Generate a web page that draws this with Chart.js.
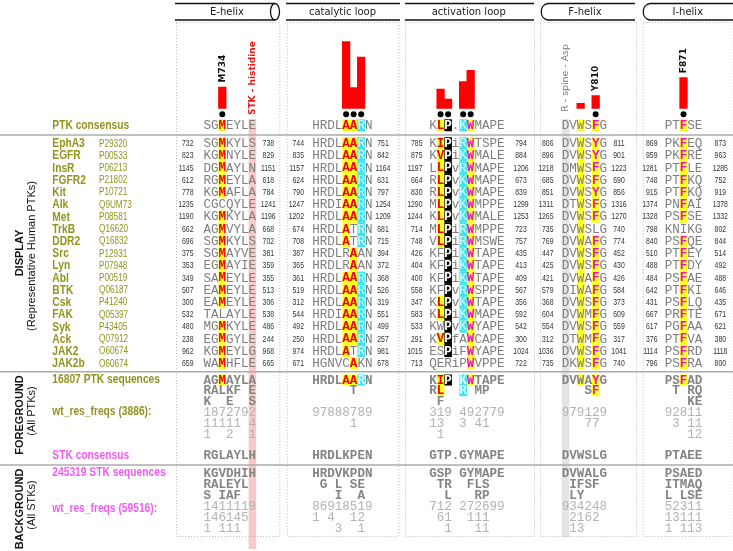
<!DOCTYPE html>
<html>
<head>
<meta charset="utf-8">
<title>PTK alignment</title>
<script src="https://cdn.jsdelivr.net/npm/chart.js@4.4.1/dist/chart.umd.min.js"></script>
<style>
  html, body { margin: 0; padding: 0; background: #fff; overflow: hidden; }
  canvas { display: block; }
</style>
</head>
<body>
<canvas id="alignChart" width="733" height="551"></canvas>
<script>
/* ================== Data ================== */
const blockNames = ["E-helix", "catalytic loop", "activation loop", "F-helix", "I-helix"];

// bar heights over alignment columns (block index, column inside block)
const barBlock = [0, 1, 1, 1, 2, 2, 2, 2, 3, 3, 4];
const barCol = [2, 4, 5, 6, 1, 2, 4, 5, 2, 4, 2];
const barValues = [0.32, 1.0, 0.31, 0.77, 0.29, 0.14, 0.4, 0.57, 0.075, 0.19, 0.46];

// black dots under the selected columns
const dotBlock = [0, 1, 1, 1, 2, 2, 2, 2, 3, 4];
const dotCol = [2, 4, 5, 6, 1, 2, 4, 5, 4, 2];

// residue labels above bars
const markLabels = ["M734", "Y810", "F871"];
const markBlock = [0, 3, 4];
const markCol = [2, 4, 2];

// column notes
const noteLabels = ["STK - histidine", "R - spine - Asp"];
const noteBlock = [0, 3];
const noteCol = [6, 0];

const ptkConsensus = ["SGMEYLE", "HRDLAARN", "KLP.KWMAPE", "DVWSFG", "PTFSE"];

const proteins = ["EphA3", "EGFR", "InsR", "FGFR2", "Kit", "Alk", "Met", "TrkB", "DDR2", "Src",
  "Lyn", "Abl", "BTK", "Csk", "FAK", "Syk", "Ack", "JAK2", "JAK2b"];
const accessions = ["P29320", "P00533", "P06213", "P21802", "P10721", "Q9UM73", "P08581", "Q16620",
  "Q16832", "P12931", "P07948", "P00519", "Q06187", "P41240", "Q05397", "P43405", "Q07912",
  "O60674", "O60674"];

const seqs = [
  ["SGMKYLS", "HRDLAARN", "KIPiRWTSPE", "DVWSYG", "PKFEQ"],
  ["KGMNYLE", "HRDLAARN", "KVPiKWMALE", "DVWSYG", "PKFRE"],
  ["DGMAYLN", "HRDLAARN", "LLPvRWMAPE", "DMWSFG", "PTFLE"],
  ["RGMEYLA", "HRDLAARN", "RLPvKWMAPE", "DVWSFG", "PTFKQ"],
  ["KGMAFLA", "HRDLAARN", "RLPvKWMAPE", "DVWSYG", "PTFKQ"],
  ["CGCQYLE", "HRDIAARN", "MLPvKWMPPE", "DTWSFG", "PNFAI"],
  ["KGMKYLA", "HRDLAARN", "KLPvKWMALE", "DVWSFG", "PSFSE"],
  ["AGMVYLA", "HRDLATRN", "MLPiRWMPPE", "DVWSLG", "KNIKG"],
  ["SGMKYLS", "HRDLATRN", "VLPiRWMSWE", "DVWAFG", "PSFQE"],
  ["SGMAYVE", "HRDLRAAN", "KFPiKWTAPE", "DVWSFG", "PTFEY"],
  ["EGMAYIE", "HRDLRAAN", "KFPiKWTAPE", "DVWSFG", "PTFDY"],
  ["SAMEYLE", "HRDLAARN", "KFPiKWTAPE", "DVWAFG", "PSFAE"],
  ["EAMEYLE", "HRDLAARN", "KFPvRWSPPE", "DIWAFG", "PTFKI"],
  ["EAMEYLE", "HRDLAARN", "KLPvKWTAPE", "DVWSFG", "PSFLQ"],
  ["TALAYLE", "HRDIAARN", "KLPiKWMAPE", "DVWMFG", "PRFTE"],
  ["MGMKYLE", "HRDLAARN", "KWPvKWYAPE", "DVWSFG", "PGFAA"],
  ["EGMGYLE", "HRDLAARN", "KVPfAWCAPE", "DTWMFG", "PTFVA"],
  ["KGMEYLG", "HRDLATRN", "ESPiFWYAPE", "DVWSFG", "PSFRD"],
  ["WAMHFLE", "HGNVCAKN", "QERiPWVPPE", "DKWSFG", "PSFRA"]
];
const startNums = [
  [732, 744, 785, 806, 869], [823, 835, 875, 896, 959], [1145, 1157, 1197, 1218, 1281],
  [612, 624, 664, 685, 748], [778, 790, 830, 851, 915], [1235, 1247, 1290, 1311, 1374],
  [1190, 1202, 1244, 1265, 1328], [662, 674, 714, 735, 798], [696, 708, 748, 769, 840],
  [375, 387, 426, 447, 510], [353, 365, 404, 425, 488], [349, 361, 400, 421, 484],
  [507, 519, 558, 579, 642], [300, 312, 347, 368, 431], [532, 544, 583, 604, 667],
  [480, 492, 533, 554, 617], [238, 250, 291, 312, 376], [962, 974, 1015, 1036, 1114],
  [659, 671, 713, 735, 796]
];
const endNums = [
  [738, 751, 794, 811, 873], [829, 842, 884, 901, 963], [1151, 1164, 1206, 1223, 1285],
  [618, 631, 673, 690, 752], [784, 797, 839, 856, 919], [1241, 1254, 1299, 1316, 1378],
  [1196, 1209, 1253, 1270, 1332], [668, 681, 723, 740, 802], [702, 715, 757, 774, 844],
  [381, 394, 435, 452, 514], [359, 372, 413, 430, 492], [355, 368, 409, 426, 488],
  [513, 526, 567, 584, 646], [306, 319, 356, 373, 435], [538, 551, 592, 609, 671],
  [486, 499, 542, 559, 621], [244, 257, 300, 317, 380], [968, 981, 1024, 1041, 1118],
  [665, 678, 722, 740, 800]
];

// foreground (all PTKs): residue lines and weighted frequency lines per block
const fgResidues = [
  ["AGMAYLA", "RALKF E", "K  E  S"],
  ["HRDLAARN", "     T", ""],
  ["KIP KWTAPE", "RL  R MP", " F"],
  ["DVWAYG", "   SF", ""],
  ["PSFAD", " T RQ", "   KE"]
];
const fgFreqs = [
  ["1872792", "11111 4", "1  2  1"],
  ["97888789", "     1", ""],
  ["319 492779", "13  3 41", " 1"],
  ["979129", "   77", ""],
  ["92811", " 3 11", "   12"]
];
const stkConsensus = ["RGLAYLH", "HRDLKPEN", "GTP.GYMAPE", "DVWSLG", "PTAEE"];
// background (all STKs)
const bgResidues = [
  ["KGVDHIH", "RALEYL", "S IAF"],
  ["HRDVKPDN", " G L SE", "   I  A"],
  ["GSP GYMAPE", " TR  FLS", "  L   RP"],
  ["DVWALG", " IFSF", " LY"],
  ["PSAED", "ITMAQ", "L LSE"]
];
const bgFreqs = [
  ["1411119", "146145", "1 111"],
  ["86918519", "1 4  12", "   3  1"],
  ["712 272699", " 61  111", "  1   11"],
  ["934248", " 2162", " 13"],
  ["52311", "13111", "1 113"]
];

// highlight rules: "block:col" -> residue -> style
const hlRules = {
  "0:2": { M: "yr" },
  "1:4": { A: "yr" }, "1:5": { A: "yr" }, "1:6": { R: "cy" },
  "2:1": { L: "yr", I: "yr", V: "yr" }, "2:2": { P: "bk" },
  "2:4": { K: "cy", R: "cy" }, "2:5": { W: "ym" },
  "3:2": { W: "yg" }, "3:4": { F: "ym", Y: "ym" },
  "4:2": { F: "ym" }
};

const sectionLabels = ["PTK consensus", "16807 PTK sequences", "wt_res_freqs (3886):",
  "STK consensus", "245319 STK sequences", "wt_res_freqs (59516):"];

/* ================== Layout & styles ================== */
const W = 733, H = 551;
const CW = 7.6; // one residue column
const BLOCK_X = [201.7, 311.7, 430, 564, 668];
const BLOCK_COL = BLOCK_X.map((p) => p / CW);
const NUM_L = [193.5, 304, 422.5, 553.5, 657.5];
const NUM_R = [268.3, 383, 521, 619, 720.3];
const BOX = [[176, 279.3], [286.7, 398.3], [405, 534], [540, 636], [642.7, 732.7]];
const HEAD_X = [227, 342.5, 468.7, 585, 687.8];
const CONS_Y = 125.3, ROW_Y0 = 143.3, ROW_DY = 12.22;
const FG_Y0 = 380, FG_DY = 10.75, STK_Y = 455.7, BG_Y0 = 473, BG_DY = 10.95;
const SECTION_Y = [125.3, 380, 412, 455.7, 473, 508.3];

const OLIVE = "#939320";
const PINK_TXT = "#f25cf2";
const SECTION_COL = [OLIVE, OLIVE, OLIVE, PINK_TXT, PINK_TXT, PINK_TXT];
const GRAY = "#7e7e7e", GRAY_B = "#848484", GRAY_L = "#b3b3b3";
const YELLOW = "#ffff1e", CYAN = "#3fe3f0", RED = "#f00000", MAG = "#ee10c8";
const MONO = '12.6px "Liberation Mono", "DejaVu Sans Mono", monospace';
const SANS = '"Liberation Sans", Arial, sans-serif';
const DJV = '"DejaVu Sans", Verdana, sans-serif';

/* ================== Helpers ================== */
function colX(chart, b, c) {
  return chart.scales.x.getPixelForValue(BLOCK_COL[b] + c);
}

function narrowText(ctx, text, x, y, font, color, align, sx) {
  ctx.save();
  ctx.translate(x, y);
  ctx.scale(sx || 0.82, 1);
  ctx.font = font;
  ctx.fillStyle = color;
  ctx.textAlign = align || "left";
  ctx.textBaseline = "middle";
  ctx.fillText(text, 0, 0);
  ctx.restore();
}

function vText(ctx, text, x, y, font, color, align) {
  ctx.save();
  ctx.translate(x, y);
  ctx.rotate(-Math.PI / 2);
  ctx.font = font;
  ctx.fillStyle = color;
  ctx.textAlign = align || "center";
  ctx.textBaseline = "middle";
  ctx.fillText(text, 0, 0);
  ctx.restore();
}

// every sequence line drawn on the page
function buildSeqLines() {
  const lines = [];
  for (let b = 0; b < 5; b++) {
    lines.push({ b, seq: ptkConsensus[b], y: CONS_Y, kind: "disp", hl: true, ch: 12 });
    seqs.forEach((row, i) => {
      lines.push({ b, seq: row[b], y: ROW_Y0 + i * ROW_DY, kind: "disp", hl: true, ch: ROW_DY });
    });
    fgResidues[b].forEach((s, i) => lines.push({ b, seq: s, y: FG_Y0 + i * FG_DY, kind: "bold", hl: true, ch: 11 }));
    fgFreqs[b].forEach((s, i) => lines.push({ b, seq: s, y: FG_Y0 + (i + 3) * FG_DY, kind: "dig" }));
    lines.push({ b, seq: stkConsensus[b], y: STK_Y, kind: "bold" });
    bgResidues[b].forEach((s, i) => lines.push({ b, seq: s, y: BG_Y0 + i * BG_DY, kind: "bold" }));
    bgFreqs[b].forEach((s, i) => lines.push({ b, seq: s, y: BG_Y0 + (i + 3) * BG_DY, kind: "dig" }));
  }
  return lines;
}
const seqLines = buildSeqLines();

function hlStyle(line, c, ch) {
  if (!line.hl) return null;
  const rule = hlRules[line.b + ":" + c];
  return rule ? rule[ch] || null : null;
}

/* ================== Plugin: background, alignment text ================== */
const alignmentPlugin = {
  id: "alignment",
  beforeDraw(chart) {
    const ctx = chart.ctx;
    ctx.save();
    ctx.fillStyle = "#fff";
    ctx.fillRect(0, 0, W, H);

    // STK histidine column and R-spine column
    ctx.fillStyle = "#f8c9c9";
    ctx.fillRect(colX(chart, 0, 6), 119, CW, 430);
    ctx.fillStyle = "#e4e4e4";
    ctx.fillRect(colX(chart, 3, 0), 119, CW, 418);

    // dotted boxes
    ctx.strokeStyle = "#b9b9b9";
    ctx.lineWidth = 1;
    ctx.setLineDash([1, 2]);
    BOX.forEach(([l, r]) => {
      ctx.strokeRect(l + 0.5, 22.5, r - l, 514);
    });
    ctx.setLineDash([]);

    // section separators
    ctx.strokeStyle = "#ababab";
    ctx.lineWidth = 1.5;
    [135, 371.7, 465].forEach((y) => {
      ctx.beginPath();
      ctx.moveTo(0, y);
      ctx.lineTo(W, y);
      ctx.stroke();
    });

    // header tubes
    const yt = 3.5, yb = 20, ymid = (yt + yb) / 2;
    ctx.strokeStyle = "#111";
    ctx.lineWidth = 1.3;
    [[175, 275], [286, 400], [405, 534]].forEach(([l, r]) => {
      ctx.beginPath();
      ctx.moveTo(l, yt); ctx.lineTo(r, yt);
      ctx.moveTo(l, yb); ctx.lineTo(r, yb);
      ctx.stroke();
    });
    ctx.beginPath();
    ctx.ellipse(275, ymid, 4.5, (yb - yt) / 2, 0, 0, Math.PI * 2);
    ctx.stroke();
    [[540, 635], [642, 733]].forEach(([l, r]) => {
      ctx.beginPath();
      ctx.moveTo(r, yt);
      ctx.lineTo(l + 8, yt);
      ctx.bezierCurveTo(l - 1, yt + 1, l - 1, yb - 1, l + 8, yb);
      ctx.lineTo(r, yb);
      ctx.stroke();
    });

    // highlight cells
    seqLines.forEach((line) => {
      for (let c = 0; c < line.seq.length; c++) {
        const st = hlStyle(line, c, line.seq[c]);
        if (!st) continue;
        ctx.fillStyle = st === "cy" ? CYAN : st === "bk" ? "#000" : YELLOW;
        const x0 = colX(chart, line.b, c);
        ctx.fillRect(x0, line.y - line.ch / 2, CW, line.ch);
      }
    });
    ctx.restore();
  },
  afterDraw(chart) {
    const ctx = chart.ctx;
    const y = chart.scales.y;
    ctx.save();

    // header labels
    blockNames.forEach((name, b) => {
      ctx.font = "10px " + DJV;
      ctx.fillStyle = "#222";
      ctx.textAlign = "center";
      ctx.textBaseline = "middle";
      ctx.fillText(name, HEAD_X[b], 12);
    });

    // residue labels above bars
    markLabels.forEach((txt, i) => {
      const k = barBlock.findIndex((bb, j) => bb === markBlock[i] && barCol[j] === markCol[i]);
      const top = y.getPixelForValue(barValues[k]);
      vText(ctx, txt, colX(chart, markBlock[i], markCol[i] + 0.5), top - 4.5, "bold 9px " + DJV, "#111", "left");
    });
    vText(ctx, noteLabels[0], colX(chart, noteBlock[0], noteCol[0] + 0.5), 115, "bold 9px " + DJV, "#e51a1a", "left");
    vText(ctx, noteLabels[1], colX(chart, noteBlock[1], noteCol[1] + 0.5), 111.7, "9.4px " + DJV, "#7a7a7a", "left");

    // sequence letters
    ctx.textAlign = "center";
    ctx.textBaseline = "middle";
    seqLines.forEach((line) => {
      for (let c = 0; c < line.seq.length; c++) {
        const ch = line.seq[c];
        if (ch === " ") continue;
        const st = hlStyle(line, c, ch);
        let color = line.kind === "dig" ? GRAY_L : line.kind === "bold" ? GRAY_B : GRAY;
        let bold = line.kind === "bold";
        if (st === "yr") { color = RED; bold = true; }
        else if (st === "ym") { color = MAG; bold = true; }
        else if (st === "cy") { color = "#dcfbfd"; }
        else if (st === "bk") { color = "#fff"; bold = true; }
        ctx.font = (bold ? "bold " : "") + MONO;
        ctx.fillStyle = color;
        ctx.fillText(ch, colX(chart, line.b, c + 0.5), line.y + 0.5);
      }
    });

    // residue numbers
    seqs.forEach((row, i) => {
      const ry = ROW_Y0 + i * ROW_DY + 0.5;
      for (let b = 0; b < 5; b++) {
        narrowText(ctx, String(startNums[i][b]), NUM_L[b], ry, "8.6px " + SANS, "#333", "right", 0.8);
        narrowText(ctx, String(endNums[i][b]), NUM_R[b], ry, "8.6px " + SANS, "#333", "center", 0.8);
      }
      narrowText(ctx, proteins[i], 52.3, ry, "bold 12.5px " + SANS, OLIVE, "left");
      narrowText(ctx, accessions[i], 99, ry, "10px " + SANS, OLIVE, "left");
    });

    // section labels
    sectionLabels.forEach((txt, i) => {
      narrowText(ctx, txt, 52.3, SECTION_Y[i], "bold 12.5px " + SANS, SECTION_COL[i], "left");
    });

    // side titles
    vText(ctx, "DISPLAY", 20, 253, "bold 11px " + SANS, "#111");
    vText(ctx, "(Representative Human PTKs)", 31.5, 256, "11px " + SANS, "#111");
    vText(ctx, "FOREGROUND", 20, 415, "bold 11px " + SANS, "#111");
    vText(ctx, "(All PTKs)", 31.5, 411, "11px " + SANS, "#111");
    vText(ctx, "BACKGROUND", 20, 509, "bold 11px " + SANS, "#111");
    vText(ctx, "(All STKs)", 31.5, 505, "11px " + SANS, "#111");
    ctx.restore();
  }
};

/* ================== Chart ================== */
const barData = barValues.map((v, i) => ({ x: BLOCK_COL[barBlock[i]] + barCol[i] + 0.5, y: v }));
const dotData = dotBlock.map((b, i) => ({ x: BLOCK_COL[b] + dotCol[i] + 0.5, y: -0.09 }));

const chart = new Chart(document.getElementById("alignChart"), {
  type: "bar",
  data: {
    datasets: [
      {
        label: "conservation",
        data: barData,
        backgroundColor: "#ff0000",
        borderWidth: 0,
        barThickness: CW,
      },
      {
        type: "scatter",
        label: "selected",
        data: dotData,
        backgroundColor: "#000",
        borderWidth: 0,
        pointRadius: 3,
      },
    ],
  },
  options: {
    responsive: false,
    animation: false,
    devicePixelRatio: 1,
    layout: { padding: { left: 0, right: 0, top: 28.38, bottom: 432.71 } },
    plugins: { legend: { display: false }, tooltip: { enabled: false } },
    scales: {
      x: { type: "linear", min: 0, max: W / CW, offset: false, display: false },
      y: { min: -0.15, max: 1.2, display: false },
    },
  },
  plugins: [alignmentPlugin],
});
</script>
</body>
</html>
